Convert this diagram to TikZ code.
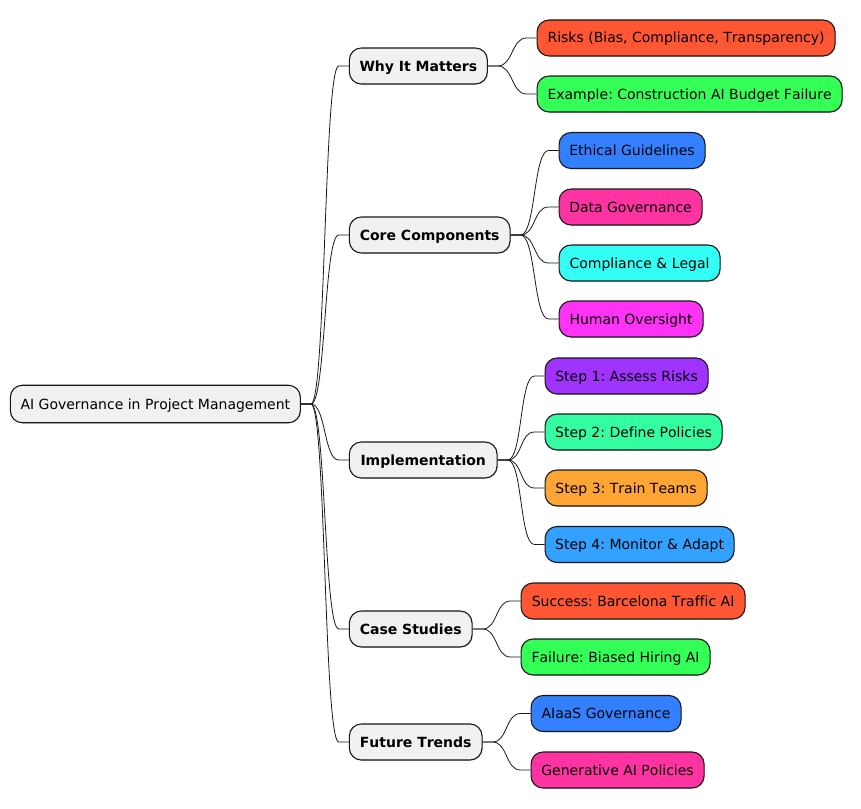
\documentclass[tikz,border=0pt]{standalone}
\usepackage{fontspec}
\setmainfont[Kerning=Off,Ligatures=NoCommon]{DejaVu Sans}
\usetikzlibrary{shadows,calc}
\definecolor{cA}{HTML}{F1F1F1}
\definecolor{cRed}{HTML}{FF5733}
\definecolor{cGreen}{HTML}{33FF57}
\definecolor{cBlue}{HTML}{3380FF}
\definecolor{cPink}{HTML}{FF33A1}
\definecolor{cCyan}{HTML}{33FFF5}
\definecolor{cMag}{HTML}{FF33F5}
\definecolor{cPurple}{HTML}{A133FF}
\definecolor{cMint}{HTML}{33FFA1}
\definecolor{cOrange}{HTML}{FFA533}
\definecolor{cSky}{HTML}{33A1FF}
\definecolor{cLine}{HTML}{181818}
\tikzset{
  box/.style={draw=cLine,line width=1.1pt,rounded corners=12pt,inner sep=0pt,minimum height=36pt,anchor=west,
    text height=10pt,text depth=0pt,font=\fontsize{14}{16}\selectfont\frenchspacing,text=black,
    drop shadow={shadow xshift=0.8pt,shadow yshift=-0.8pt,fill=black,opacity=0.12}},
  grp/.style={box,fill=cA,font=\fontsize{14}{16}\selectfont\frenchspacing\bfseries},
  linkline/.style={draw=cLine,line width=0.8pt},
}
\begin{document}
\begin{tikzpicture}[x=1pt,y=-1pt]
\useasboundingbox (0,0) rectangle (861,808);
\node[box,fill=cA,minimum width=290pt,minimum height=37.5pt] (root) at (9.8,404) {AI Governance in Project Management};
\node[grp,minimum width=138pt] (why) at (348.8,66) {Why It Matters};
\node[grp,minimum width=160.7pt] (core) at (348.8,235) {Core Components};
\node[grp,minimum width=147.7pt] (impl) at (348.8,460) {Implementation};
\node[grp,minimum width=122.7pt] (cases) at (348.8,629) {Case Studies};
\node[grp,minimum width=132.7pt] (future) at (348.8,742) {Future Trends};
\node[box,fill=cRed,minimum width=298pt] (risks) at (536.5,38) {Risks (Bias, Compliance, Transparency)};
\node[box,fill=cGreen,minimum width=305pt] (example) at (536.5,94) {Example: Construction AI Budget Failure};
\node[box,fill=cBlue,minimum width=146pt] (ethical) at (558.5,150.5) {Ethical Guidelines};
\node[box,fill=cPink,minimum width=143pt] (data) at (558.5,207) {Data Governance};
\node[box,fill=cCyan,minimum width=161pt] (legal) at (558.5,263) {Compliance \& Legal};
\node[box,fill=cMag,minimum width=144pt] (human) at (558.5,319) {Human Oversight};
\node[box,fill=cPurple,minimum width=163pt] (s1) at (544.5,376) {Step 1: Assess Risks};
\node[box,fill=cMint,minimum width=177pt] (s2) at (544.5,432) {Step 2: Define Policies};
\node[box,fill=cOrange,minimum width=162pt] (s3) at (544.5,488) {Step 3: Train Teams};
\node[box,fill=cSky,minimum width=189pt] (s4) at (544.5,544.5) {Step 4: Monitor \& Adapt};
\node[box,fill=cRed,minimum width=224pt] (success) at (520.5,601) {Success: Barcelona Traffic AI};
\node[box,fill=cGreen,minimum width=189pt] (failure) at (520.5,657) {Failure: Biased Hiring AI};
\node[box,fill=cBlue,minimum width=150pt] (aiaas) at (530.5,713.5) {AIaaS Governance};
\node[box,fill=cPink,minimum width=173pt] (gen) at (530.5,770) {Generative AI Policies};
\foreach \a/\b in {root/why,root/core,root/impl,root/cases,root/future,
  why/risks,why/example,core/ethical,core/data,core/legal,core/human,
  impl/s1,impl/s2,impl/s3,impl/s4,cases/success,cases/failure,future/aiaas,future/gen}{
  \draw[linkline] (\a.east) -- ++(10,0) coordinate (p)
    .. controls ($(p)+(15,0)$) and ($(\b.west)+(-25,0)$) .. ($(\b.west)+(-10,0)$) -- (\b.west);
}
\end{tikzpicture}
\end{document}
